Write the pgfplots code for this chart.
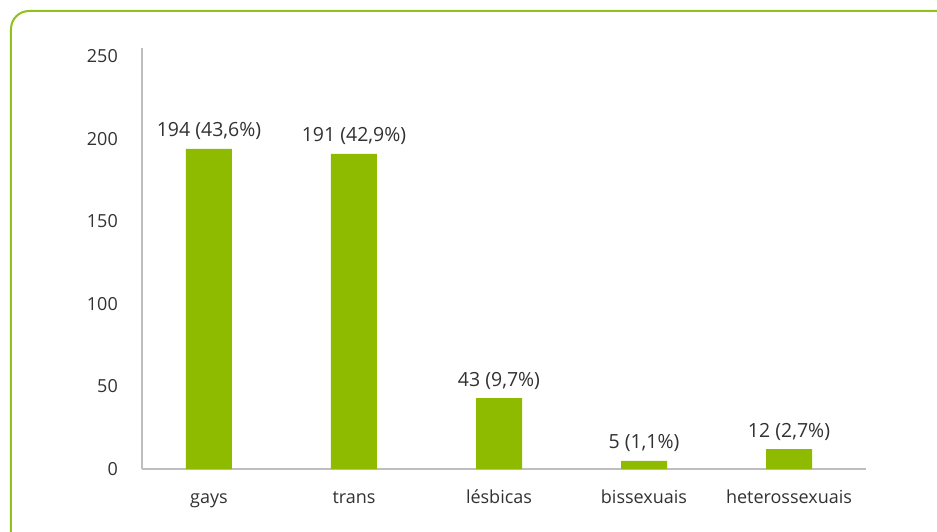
\documentclass[border=0pt]{standalone}
\usepackage{fontspec}
\setmainfont{Open Sans}
\usepackage{pgfplots}
\pgfplotsset{compat=1.18}
\definecolor{barg}{RGB}{142,187,0}
\definecolor{frameg}{RGB}{146,194,24}
\definecolor{axg}{RGB}{190,190,194}
\definecolor{txt}{RGB}{50,50,50}
\begin{document}
\fontsize{18bp}{21bp}\selectfont
\begin{tikzpicture}
\useasboundingbox (-142bp,-63bp) rectangle (795bp,469bp);
\begin{axis}[
  at={(0,0)}, anchor=south west,
  scale only axis, width=724bp, height=420.75bp,
  xmin=-0.462, xmax=4.531, ymin=0, ymax=255,
  axis x line*=bottom, axis y line*=left,
  x axis line style={draw=axg, line width=1.3bp},
  y axis line style={draw=axg, line width=1.1bp},
  major tick length=0pt,
  ytick={0,50,100,150,200,250},
  xtick={0,1,2,3,4},
  xticklabels={gays,trans,lésbicas,bissexuais,heterossexuais},
  tick label style={font=\fontsize{18bp}{21bp}\selectfont, text=txt},
  /pgf/number format/assume math mode=true,
  yticklabel style={anchor=east, inner sep=0pt, xshift=-24bp},
  xticklabel style={anchor=north, inner sep=0pt, text height=13bp, text depth=4bp, yshift=-21bp},
  ybar, bar width=46bp,
  point meta=explicit symbolic,
  nodes near coords,
  nodes near coords style={anchor=base, inner sep=0pt, yshift=12bp, text=txt, font=\fontsize{19.5bp}{23bp}\selectfont},
  clip=false,
]
\addplot[fill=barg, draw=none] coordinates {
  (0,194) [194 (43,6\%)]
  (1,191) [191 (42,9\%)]
  (2,43) [43 (9,7\%)]
  (3,5) [5 (1,1\%)]
  (4,12) [12 (2,7\%)]
};
\end{axis}
\draw[frameg, line width=2bp, rounded corners=18bp] (-131bp,-120bp) -- (-131bp,458bp) -- (900bp,458bp);
\end{tikzpicture}
\end{document}
